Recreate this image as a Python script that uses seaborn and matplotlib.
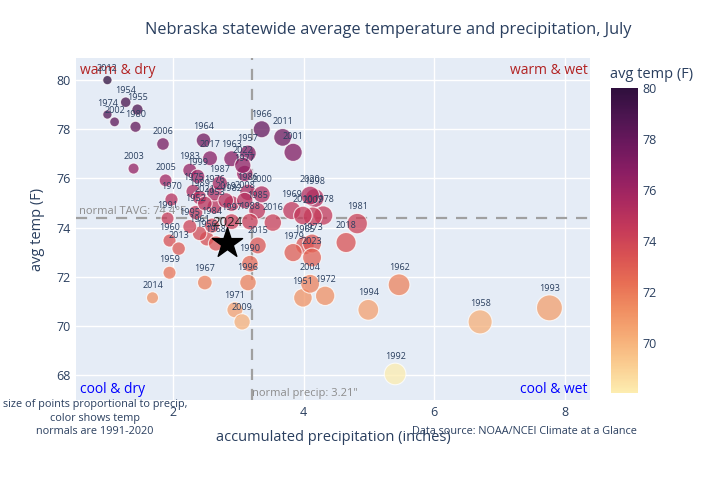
import matplotlib
matplotlib.use("Agg")
import matplotlib.pyplot as plt
from matplotlib.colors import LinearSegmentedColormap, Normalize
from matplotlib.cm import ScalarMappable
import numpy as np
import pandas as pd
import seaborn as sns

# Nebraska July data ----------------------------------------------------------
years = [1951, 1952, 1953, 1954, 1955, 1956, 1957, 1958, 1959, 1960,
         1961, 1962, 1963, 1964, 1965, 1966, 1967, 1968, 1969, 1970,
         1971, 1972, 1973, 1974, 1975, 1976, 1977, 1978, 1979, 1980,
         1981, 1982, 1983, 1984, 1985, 1986, 1987, 1988, 1989, 1990,
         1991, 1992, 1993, 1994, 1995, 1996, 1997, 1998, 1999, 2000,
         2001, 2002, 2003, 2004, 2005, 2006, 2007, 2008, 2009, 2010,
         2011, 2012, 2013, 2014, 2015, 2016, 2017, 2018, 2019, 2020,
         2021, 2022, 2023]
precip = [3.99, 2.35, 2.64, 1.28, 1.46, 2.52, 3.15, 6.70, 1.95, 1.95,
          2.41, 5.46, 2.90, 2.47, 4.02, 3.36, 2.49, 2.66, 3.82, 1.98,
          2.95, 4.33, 4.13, 1.00, 2.31, 2.64, 3.10, 4.30, 3.84, 1.43,
          4.82, 2.90, 2.26, 2.60, 3.29, 3.15, 2.72, 3.18, 2.41, 3.18,
          1.92, 5.40, 7.76, 4.99, 2.26, 3.15, 2.90, 4.17, 2.38, 3.36,
          3.84, 1.11, 1.40, 4.10, 1.89, 1.85, 4.14, 3.10, 3.06, 3.99,
          3.68, 1.00, 2.09, 1.69, 3.30, 3.53, 2.57, 4.65, 2.81, 4.10,
          2.49, 3.07, 4.13]
temp = [71.14, 74.61, 74.86, 79.10, 78.80, 73.55, 77.02, 70.16, 72.16, 73.47,
        73.76, 71.67, 76.80, 77.55, 73.27, 78.00, 71.76, 73.35, 74.69, 75.14,
        70.65, 71.22, 73.35, 78.60, 75.47, 75.39, 76.20, 74.49, 72.98, 78.10,
        74.16, 74.98, 76.33, 74.08, 74.69, 75.43, 75.80, 74.24, 75.22, 72.53,
        74.37, 68.04, 70.73, 70.65, 74.04, 71.76, 74.24, 75.20, 76.08, 75.35,
        77.06, 78.30, 76.40, 71.71, 75.92, 77.40, 74.45, 75.10, 70.16, 74.49,
        77.67, 80.00, 73.14, 71.14, 73.27, 74.20, 76.82, 73.39, 75.10, 75.30,
        74.98, 76.53, 72.78]

year_2024 = 2024
precip_2024 = 2.83
temp_2024 = 73.39

normal_precip = 3.21
normal_temp = 74.4

x_ticks = [2, 4, 6, 8]
y_ticks = [68, 70, 72, 74, 76, 78, 80]
cbar_ticks = [70, 72, 74, 76, 78, 80]

# plotly "matter" colour scale
matter = ['#fdedb0', '#facd91', '#f6ad77', '#f08e62', '#e76d54', '#d85053',
          '#c3385a', '#a82860', '#8a1d63', '#6b185d', '#4c1550', '#2f0f3d']

# ==============================================================================
if __name__ == '__main__':

    df = pd.DataFrame({'year': years, 'precip': precip, 'temp': temp})
    all_temp = temp + [temp_2024]
    tmin, tmax = min(all_temp), max(all_temp)
    cmap = LinearSegmentedColormap.from_list('matter', matter)
    area_per_inch = 44.8          # marker area (pt^2) per inch of precip

    text_color = '#2a3f5f'
    sns.set_theme(style='darkgrid', rc={'axes.facecolor': '#E5ECF6',
                                        'grid.color': 'white',
                                        'grid.linewidth': 1.0})
    plt.rcParams['font.family'] = ['Open Sans', 'DejaVu Sans']

    fig = plt.figure(figsize=(7.2, 4.8), dpi=100)
    ax = fig.add_axes([76 / 720, 1 - 400 / 480, 514 / 720, 342 / 480])

    # reference lines ----------------------------------------------------------
    ax.axvline(normal_precip, color='#a0a0a0', ls=(0, (5, 4)), lw=1.6, zorder=1)
    ax.axhline(normal_temp, color='#a0a0a0', ls=(0, (5, 4)), lw=1.6, zorder=1)
    ax.text(0.57, normal_temp + 0.02, 'normal TAVG: 74.4°F', color='#8c8c8c',
            fontsize=8, va='bottom', ha='left', zorder=1)
    ax.text(normal_precip, 67.25, 'normal precip: 3.21"', color='#8c8c8c',
            fontsize=8, va='center', ha='left', zorder=1)

    # points -------------------------------------------------------------------
    sns.scatterplot(data=df, x='precip', y='temp', hue='temp', size='precip',
                    palette=cmap, hue_norm=(tmin, tmax),
                    size_norm=(0, 8), sizes=(0, area_per_inch * 8),
                    alpha=0.75, edgecolor='white', linewidth=0.8,
                    legend=False, ax=ax, zorder=3)

    for yr, p, t in zip(years, precip, temp):
        r = np.sqrt(area_per_inch * p) / 2
        ax.annotate(str(yr), (p, t), xytext=(0, r + 1.5), textcoords='offset points',
                    ha='center', va='bottom', fontsize=6.5, color=text_color, zorder=5)

    ax.scatter([precip_2024], [temp_2024], marker='*', s=520, color='black', zorder=6)
    ax.annotate(str(year_2024), (precip_2024, temp_2024), xytext=(0, 10),
                textcoords='offset points', ha='center', va='bottom',
                fontsize=9.5, color='#222222', zorder=6)

    # quadrant labels ------------------------------------------------------------
    ax.text(0.008, 0.985, 'warm & dry', transform=ax.transAxes, color='#b22222',
            fontsize=10, ha='left', va='top')
    ax.text(0.995, 0.985, 'warm & wet', transform=ax.transAxes, color='#b22222',
            fontsize=10, ha='right', va='top')
    ax.text(0.008, 0.01, 'cool & dry', transform=ax.transAxes, color='blue',
            fontsize=10, ha='left', va='bottom')
    ax.text(0.995, 0.01, 'cool & wet', transform=ax.transAxes, color='blue',
            fontsize=10, ha='right', va='bottom')

    # axes -------------------------------------------------------------------------
    ax.set_xlim(0.52, 8.38)
    ax.set_ylim(66.98, 80.9)
    ax.set_xticks(x_ticks)
    ax.set_yticks(y_ticks)
    ax.tick_params(axis='both', labelsize=9, colors=text_color, length=0, pad=4)
    ax.set_xlabel('accumulated precipitation (inches)', fontsize=10.5,
                  color=text_color, labelpad=8)
    ax.set_ylabel('avg temp (F)', fontsize=10.5, color=text_color, labelpad=8)
    for s in ax.spines.values():
        s.set_visible(False)

    # colour bar ---------------------------------------------------------------------
    cax = fig.add_axes([611 / 720, 1 - 393 / 480, 27 / 720, 305 / 480])
    sm = ScalarMappable(norm=Normalize(tmin, tmax), cmap=cmap)
    cb = fig.colorbar(sm, cax=cax, ticks=cbar_ticks)
    cb.outline.set_visible(False)
    cax.tick_params(labelsize=9, colors=text_color, length=0, pad=3)
    fig.text(610 / 720, 1 - 75 / 480, 'avg temp (F)', fontsize=10.5,
             color=text_color, ha='left', va='center')

    # title and notes ------------------------------------------------------------------
    fig.text(388 / 720, 1 - 30 / 480,
             'Nebraska statewide average temperature and precipitation, July',
             fontsize=11.8, color=text_color, ha='center', va='center')
    fig.text(95 / 720, 1 - 418 / 480,
             'size of points proportional to precip,\ncolor shows temp\nnormals are 1991-2020',
             fontsize=7.8, color=text_color, ha='center', va='center', linespacing=1.25)
    fig.text(524 / 720, 1 - 431 / 480, 'Data source: NOAA/NCEI Climate at a Glance',
             fontsize=7.8, color=text_color, ha='center', va='center')

    fig.savefig('out.png', dpi=100, facecolor='white')
